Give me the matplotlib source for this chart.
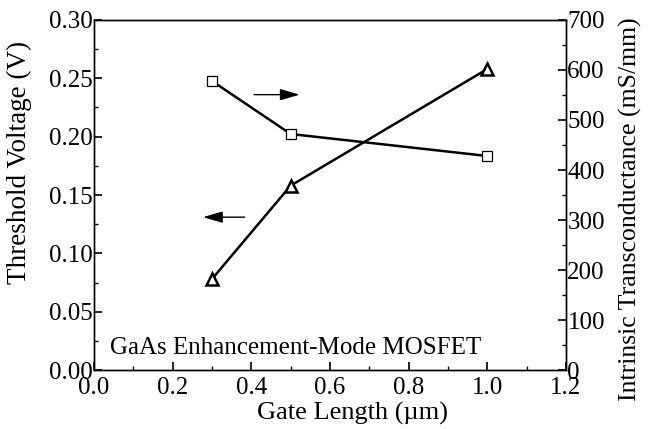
import matplotlib
matplotlib.use("Agg")
import matplotlib.pyplot as plt
from matplotlib.ticker import MultipleLocator

plt.rcParams['font.family'] = ['Liberation Serif', 'DejaVu Serif']

# data
gate_length = [0.3, 0.5, 1.0]
threshold_v = [0.078, 0.158, 0.258]
transcond = [578, 472, 428]

fig = plt.figure(figsize=(6.51, 4.29), dpi=100)
ax = fig.add_axes([0.1444, 0.1375, 0.725, 0.8159])
ax2 = ax.twinx()

# threshold voltage (left axis) - triangles
ax.plot(gate_length, threshold_v, color='black', lw=1.8, marker='^',
        markersize=9, markerfacecolor='white', markeredgecolor='black',
        markeredgewidth=1.8, zorder=3)
# transconductance (right axis) - squares
ax2.plot(gate_length, transcond, color='black', lw=1.8, marker='s',
         markersize=7, markerfacecolor='white', markeredgecolor='black',
         markeredgewidth=0.9, zorder=3)

ax.set_xlim(0.0, 1.2)
ax.set_ylim(0.0, 0.30)
ax2.set_ylim(0, 700)

ax.xaxis.set_minor_locator(MultipleLocator(0.1))
ax.yaxis.set_minor_locator(MultipleLocator(0.025))
ax2.yaxis.set_major_locator(MultipleLocator(100))
ax2.yaxis.set_minor_locator(MultipleLocator(50))

ax.set_xticks([0.0, 0.2, 0.4, 0.6, 0.8, 1.0, 1.2])
ax.set_xticklabels(['0.0', '0.2', '0.4', '0.6', '0.8', '1.0', '1.2'])
ax.set_yticks([0.0, 0.05, 0.10, 0.15, 0.20, 0.25, 0.30])
ax.set_yticklabels(['0.00', '0.05', '0.10', '0.15', '0.20', '0.25', '0.30'])

ax.tick_params(axis='both', which='major', direction='in', length=6, width=1.2,
               labelsize=18, pad=1, top=False, right=False)
ax.tick_params(axis='x', which='major', pad=5)
ax.tick_params(axis='both', which='minor', direction='in', length=3, width=1.0,
               top=False, right=False)
ax2.tick_params(axis='y', which='major', direction='in', length=6, width=1.2,
                labelsize=18, pad=1)
ax2.tick_params(axis='y', which='minor', direction='in', length=3, width=1.0)

for a in (ax, ax2):
    for s in a.spines.values():
        s.set_linewidth(1.0)
        s.set_color('black')

ax.set_xlabel('Gate Length (\u00b5m)', fontsize=19)
ax.set_ylabel('Threshold Voltage (V)', fontsize=19.5)
ax2.set_ylabel('Intrinsic Transconductance (mS/mm)', fontsize=18.5)
ax.xaxis.set_label_coords(0.547, -0.09)
ax.yaxis.set_label_coords(-0.131, 0.594)
ax2.yaxis.set_label_coords(1.112, 0.46)

# arrows pointing to the axis each curve belongs to
ax.annotate('', xy=(0.53, 0.236), xytext=(0.40, 0.236),
            arrowprops=dict(arrowstyle='-|>,head_length=1.2,head_width=0.35',
                            color='black', lw=1.0))
ax.annotate('', xy=(0.27, 0.131), xytext=(0.39, 0.131),
            arrowprops=dict(arrowstyle='-|>,head_length=1.2,head_width=0.35',
                            color='black', lw=1.0))

ax.text(0.04, 0.019, 'GaAs Enhancement-Mode MOSFET', fontsize=18,
        ha='left', va='center')

fig.savefig('out.png', dpi=100)
